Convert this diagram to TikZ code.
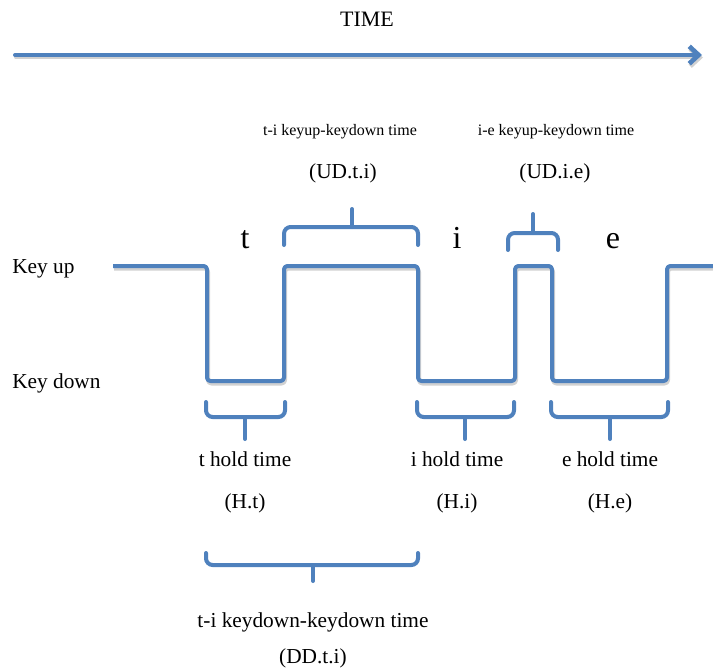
\documentclass[tikz,border=0pt]{standalone}
\usepackage{fontspec}
\setmainfont{Liberation Serif}
\usetikzlibrary{arrows.meta}
\definecolor{wave}{HTML}{4F81BD}
\tikzset{
  wline/.style={draw=wave, line width=3pt, line join=round, rounded corners=2.5pt},
  shadowline/.style={draw=black!18, line width=3pt, line join=round, rounded corners=2.5pt},
  bracepath/.style={draw=wave, line width=3pt, rounded corners=5pt, line cap=round},
  lbl/.style={inner sep=0pt, anchor=base, text=black},
  big/.style={lbl, font=\fontsize{16}{19}\selectfont},
  small/.style={lbl, font=\fontsize{12}{14}\selectfont},
  letter/.style={lbl, font=\fontsize{24}{28}\selectfont},
  timetip/.style={-{Straight Barb[length=7pt,width=13pt,line width=3.5pt]}},
}
\begin{document}
\begin{tikzpicture}[x=0.75pt,y=-0.75pt]
\useasboundingbox (0,0) rectangle (713,667);
% time axis
\node[lbl, font=\fontsize{16.5}{20}\selectfont] (time) at (367,27) {TIME};
\coordinate (ta) at (15,55);
\coordinate (tb) at (702,55);
\draw[shadowline, line cap=round, timetip] ([shift={(1,2.5)}]ta) -- ([shift={(1,2.5)}]tb);
\draw[wline, line cap=round, timetip] (ta) -- (tb);
% labels
\node[big, anchor=base west] (keyup) at (12,273) {Key up};
\node[big, anchor=base west] (keydown) at (12,388) {Key down};
% waveform
\foreach \s/\st in {{(1,2.5)}/shadowline, {(0,0)}/wline}{
\draw[\st, shift=\s] (113,266) -- (207,266) -- (207,381) -- (284,381) -- (284,266)
  -- (418,266) -- (418,381) -- (515,381) -- (515,266) -- (552,266) -- (552,381)
  -- (667,381) -- (667,266) -- (713,266);
}
% letters
\node[letter] (lt) at (245,248) {t};
\node[letter] (li) at (457,248) {i};
\node[letter] (le) at (613,248) {e};
% top braces
\draw[bracepath] (284,245) -- (284,227) -- (418,227) -- (418,245);
\draw[bracepath] (352,227) -- (352,209);
\draw[bracepath] (508,250) -- (508,233) -- (558,233) -- (558,250);
\draw[bracepath] (533,233) -- (533,214);
\node[small] (udti) at (340,135) {t-i keyup-keydown time};
\node[big] (udtil) at (343,178) {(UD.t.i)};
\node[small] (udie) at (556,135) {i-e keyup-keydown time};
\node[big] (udiel) at (555,178) {(UD.i.e)};
% hold braces
\draw[bracepath] (206,402) -- (206,417) -- (285,417) -- (285,402);
\draw[bracepath] (245,417) -- (245,439);
\draw[bracepath] (417,402) -- (417,417) -- (514,417) -- (514,402);
\draw[bracepath] (465,417) -- (465,439);
\draw[bracepath] (551,402) -- (551,417) -- (668,417) -- (668,402);
\draw[bracepath] (610,417) -- (610,439);
\node[big] (ht) at (245,466) {t hold time};
\node[big] (htl) at (245,508) {(H.t)};
\node[big] (hi) at (457,466) {i hold time};
\node[big] (hil) at (457,508) {(H.i)};
\node[big] (he) at (610,466) {e hold time};
\node[big] (hel) at (610,508) {(H.e)};
% DD brace
\draw[bracepath] (206,553) -- (206,565) -- (418,565) -- (418,553);
\draw[bracepath] (313,565) -- (313,581);
\node[big] (dd) at (313,627) {t-i keydown-keydown time};
\node[big] (ddl) at (313,663) {(DD.t.i)};
\end{tikzpicture}
\end{document}
